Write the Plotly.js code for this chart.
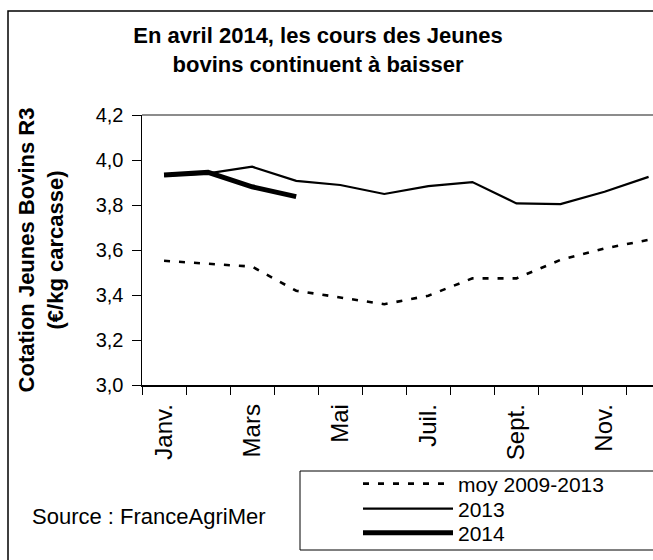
<!DOCTYPE html>
<html>
<head>
<meta charset="utf-8">
<script src="https://cdn.plot.ly/plotly-3.0.1.min.js"></script>
<style>html,body{margin:0;padding:0;overflow:hidden;background:#fff}</style>
</head>
<body>
<div id="chart" style="width:653px;height:560px"></div>
<script>
// ---- data ----
const months = ['Janv.','Févr.','Mars','Avr.','Mai','Juin','Juil.','Août','Sept.','Oct.','Nov.','Déc.'];
const tickLabels = ['Janv.','','Mars','','Mai','','Juil.','','Sept.','','Nov.',''];
const moy0913 = [3.552, 3.538, 3.526, 3.419, 3.390, 3.359, 3.397, 3.474, 3.474, 3.556, 3.607, 3.645];
const y2013 = [3.930, 3.941, 3.970, 3.907, 3.889, 3.849, 3.884, 3.902, 3.807, 3.804, 3.859, 3.925];
const y2014 = [3.933, 3.945, 3.881, 3.837];
const seriesNames = ['moy 2009-2013', '2013', '2014'];

const FONT = 'Arial, "Liberation Sans", sans-serif';
const CW = 653, CH = 560;

// pixel helpers for layout decorations (plot area: l=142, t=115, w=511, h=270)
const L = 142, T = 115, W = 511, H = 270;
const px = x => (x - L) / W;
const py = y => (T + H - y) / H;

const traces = [
  {x: months, y: moy0913, name: seriesNames[0], type: 'scatter', mode: 'lines', legend: 'legend',
   line: {color: '#000', width: 2.6, dash: '6px,9px'}},
  {x: months.slice(0, y2013.length), y: y2013, name: seriesNames[1], type: 'scatter', mode: 'lines', legend: 'legend2',
   line: {color: '#000', width: 2.2}},
  {x: months.slice(0, y2014.length), y: y2014, name: seriesNames[2], type: 'scatter', mode: 'lines', legend: 'legend3',
   line: {color: '#000', width: 5}}
];

function leg(yc) {
  return {
    xref: 'paper', yref: 'paper',
    x: px(358), xanchor: 'left', y: py(yc), yanchor: 'middle',
    bgcolor: 'rgba(0,0,0,0)', borderwidth: 0,
    font: {family: FONT, size: 21, color: '#000'},
    itemwidth: 90
  };
}

const layout = {
  width: CW, height: CH,
  margin: {l: L, r: CW - L - W, t: T, b: CH - T - H, pad: 0},
  paper_bgcolor: '#fff', plot_bgcolor: '#fff',
  separators: ',.',
  font: {family: FONT, color: '#000'},
  title: {
    text: 'En avril 2014, les cours des Jeunes<br>bovins continuent à baisser',
    font: {family: FONT, size: 22, color: '#000', weight: 'bold'},
    x: 318 / CW, xanchor: 'center', xref: 'container',
    y: 1 - 43 / CH, yanchor: 'middle', yref: 'container'
  },
  xaxis: {
    type: 'category',
    categoryorder: 'array', categoryarray: months,
    range: [-0.5, 11.1],
    tickmode: 'array', tickvals: months, ticktext: tickLabels,
    tickson: 'boundaries',
    ticks: 'outside', ticklen: 8, tickcolor: '#000', tickwidth: 1,
    tickangle: -90, ticklabelstandoff: 8,
    tickfont: {family: FONT, size: 24, color: '#000'},
    showline: true, linecolor: '#000', linewidth: 1.5,
    showgrid: false, zeroline: false, fixedrange: true, automargin: false
  },
  yaxis: {
    range: [3.0, 4.2], dtick: 0.2, tick0: 3.0, tickformat: '.1f',
    ticks: 'outside', ticklen: 9, tickcolor: '#000', tickwidth: 1,
    tickfont: {family: FONT, size: 20, color: '#000'},
    ticklabelstandoff: 4,
    showline: true, linecolor: '#000', linewidth: 1.5,
    showgrid: false, zeroline: false, fixedrange: true, automargin: false,
    title: {
      text: 'Cotation Jeunes Bovins R3<br>(€/kg carcasse)',
      font: {family: FONT, size: 22, color: '#000', weight: 'bold'},
      standoff: 26
    }
  },
  showlegend: true,
  legend: leg(484),
  legend2: leg(509),
  legend3: leg(533),
  shapes: [
    {type: 'rect', xref: 'paper', yref: 'paper', x0: px(8), x1: px(700), y0: py(600), y1: py(11),
     line: {color: '#000', width: 1.5}, fillcolor: 'rgba(0,0,0,0)', layer: 'below'},
    {type: 'line', xref: 'paper', yref: 'paper', x0: 0, x1: px(700), y0: 1, y1: 1,
     line: {color: '#8c8c8c', width: 2}, layer: 'below'},
    {type: 'rect', xref: 'paper', yref: 'paper', x0: px(300), x1: px(700), y0: py(550), y1: py(471),
     line: {color: '#000', width: 1}, fillcolor: 'rgba(0,0,0,0)', layer: 'below'}
  ],
  annotations: [
    {text: 'Source : FranceAgriMer', xref: 'paper', yref: 'paper', x: px(30), y: py(516),
     xanchor: 'left', yanchor: 'middle', showarrow: false,
     font: {family: FONT, size: 22, color: '#000'}}
  ]
};

Plotly.newPlot('chart', traces, layout, {displayModeBar: false, staticPlot: true});
</script>
</body>
</html>
